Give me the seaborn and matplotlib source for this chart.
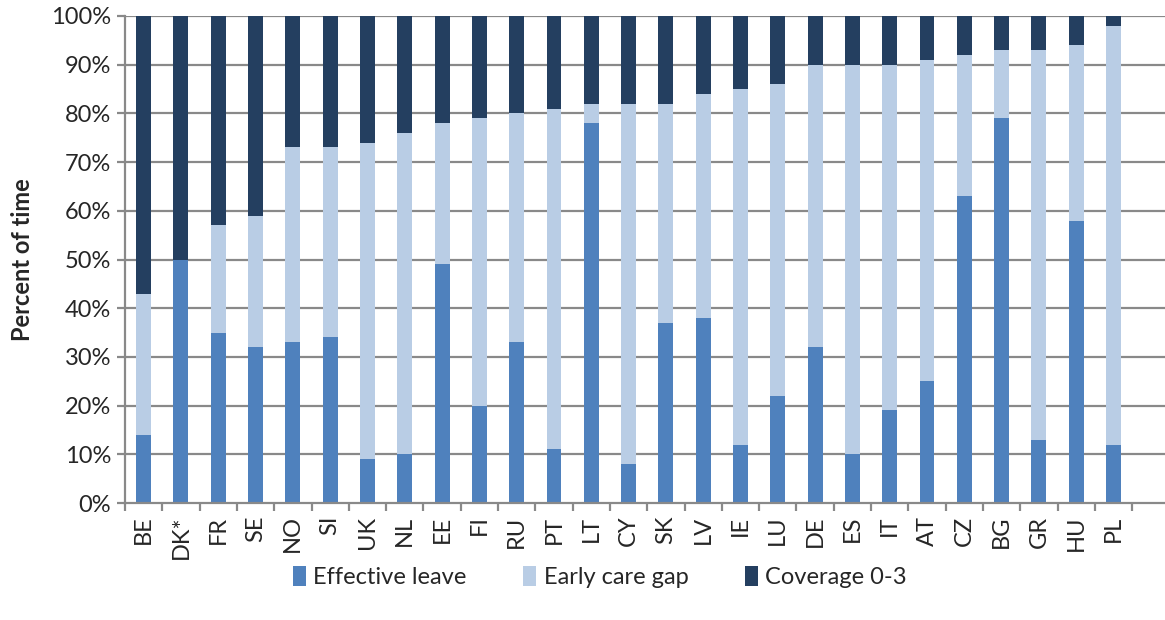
import numpy as np
import pandas as pd
import matplotlib
matplotlib.use("Agg")
import matplotlib.pyplot as plt
import seaborn as sns
from matplotlib.ticker import FixedLocator, PercentFormatter
from matplotlib.patches import Patch

countries = ["BE", "DK*", "FR", "SE", "NO", "SI", "UK", "NL", "EE", "FI", "RU", "PT", "LT",
             "CY", "SK", "LV", "IE", "LU", "DE", "ES", "IT", "AT", "CZ", "BG", "GR", "HU", "PL"]
effective_leave = [14, 50, 35, 32, 33, 34, 9, 10, 49, 20, 33, 11, 78,
                   8, 37, 38, 12, 22, 32, 10, 19, 25, 63, 79, 13, 58, 12]
early_care_gap = [29, 0, 22, 27, 40, 39, 65, 66, 29, 59, 47, 70, 4,
                  74, 45, 46, 73, 64, 58, 80, 71, 66, 29, 14, 80, 36, 86]
coverage_0_3 = [57, 50, 43, 41, 27, 27, 26, 24, 22, 21, 20, 19, 18,
                18, 18, 16, 15, 14, 10, 10, 10, 9, 8, 7, 7, 6, 2]
series_names = ["Effective leave", "Early care gap", "Coverage 0-3"]
colors = ["#4F81BD", "#B9CDE5", "#243F60"]

sns.set_theme(style="white")
plt.rcParams["font.family"] = ["Lato", "DejaVu Sans"]

df = pd.DataFrame({"country": countries,
                   "leave": effective_leave,
                   "gap": early_care_gap,
                   "cov": coverage_0_3})
df["top_leave"] = df["leave"]
df["top_gap"] = df["leave"] + df["gap"]
df["top_all"] = df["leave"] + df["gap"] + df["cov"]

fig = plt.figure(figsize=(11.65, 6.2), dpi=100)
ax = fig.add_axes([125 / 1165, (620 - 503) / 620, (1165 - 125) / 1165, (503 - 16) / 620])

grid_col = "#898989"
for y in range(10, 101, 10):
    ax.axhline(y, color=grid_col, lw=1.6, zorder=0)

for col, c in zip(["top_all", "top_gap", "top_leave"], colors[::-1]):
    sns.barplot(data=df, x="country", y=col, color=c, width=0.4, ax=ax,
                saturation=1, linewidth=0, order=countries, zorder=2)

ax.set_ylim(0, 100)
ax.set_xlim(-0.5, 27.38)
ax.yaxis.set_major_locator(FixedLocator(range(0, 101, 10)))
ax.yaxis.set_major_formatter(PercentFormatter(decimals=0))
ax.xaxis.set_minor_locator(FixedLocator(np.arange(-0.5, 28, 1.0)))

for s in ["top", "right"]:
    ax.spines[s].set_visible(False)
for s in ["left", "bottom"]:
    ax.spines[s].set_color(grid_col)
    ax.spines[s].set_linewidth(1.6)

ax.tick_params(axis="y", which="major", length=6, width=1.6, color=grid_col,
               labelsize=17, pad=4, left=True, direction="out")
ax.tick_params(axis="x", which="major", length=0, labelsize=17, pad=9, labelrotation=90)
ax.tick_params(axis="x", which="minor", length=6, width=1.6, color=grid_col,
               bottom=True, direction="out")
for lab in ax.get_xticklabels():
    lab.set_va("top")

ax.set_xlabel("")
ax.set_ylabel("Percent of time", fontsize=17, fontweight="bold", labelpad=12)

handles = [Patch(facecolor=c, edgecolor="none") for c in colors]
fig.legend(handles, series_names, loc="center", bbox_to_anchor=(0.515, (620 - 577) / 620),
           ncol=3, frameon=False, fontsize=17, handlelength=0.55, handleheight=0.9,
           handletextpad=0.3, columnspacing=2.4)

fig.savefig("out.png", dpi=100)
